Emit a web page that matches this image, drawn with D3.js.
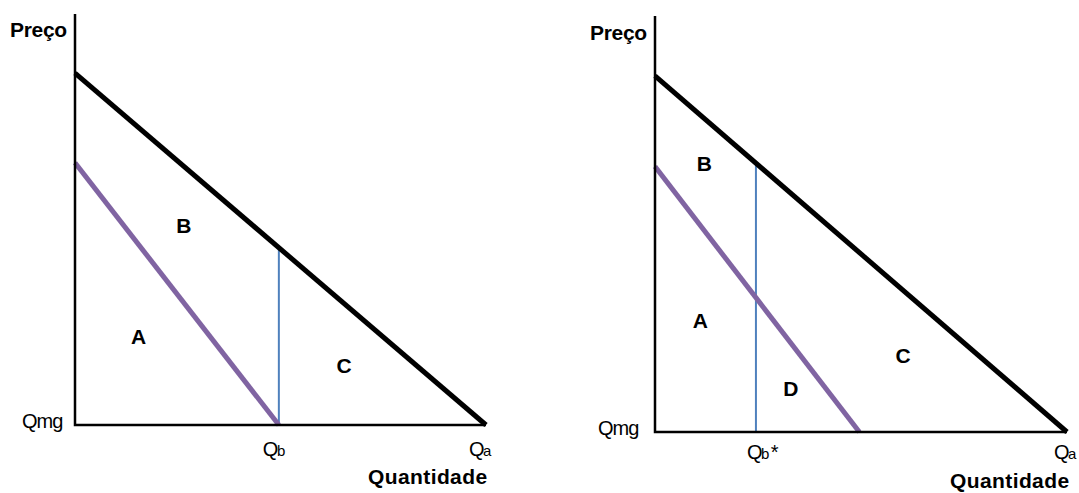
<!DOCTYPE html>
<html>
<head>
<meta charset="utf-8">
<script src="https://cdn.jsdelivr.net/npm/d3@7"></script>
<style>
  body { margin: 0; background: #fff; }
  text { font-family: "Liberation Sans", Arial, sans-serif; }
</style>
</head>
<body>
<div id="chart"></div>
<script>
// Values in abstract units (quantity 0..100, price 0..100)
const demand = [{q: 0, p: 85.6}, {q: 100, p: 0}];        // black line
const marginalCost = [{q: 0, p: 63.8}, {q: 49.6, p: 0}];  // purple line
const qbValues = [49.6, 24.5];                           // Qb (left), Qb* (right)
const qbLabels = ["Qb", "Qb*"];
const areaLabels = [
  [{t: "A", q: 15.5, p: 21.5}, {t: "B", q: 26.5, p: 48.5}, {t: "C", q: 65.5, p: 14.5}],
  [{t: "A", q: 11, p: 26.7}, {t: "B", q: 12, p: 64.6}, {t: "C", q: 60.2, p: 18.5}, {t: "D", q: 33, p: 10.4}]
];

const width = 1079;
const height = 493;

// Each panel: axis box in pixels and label anchors
const panels = [
  {x0: 75, x1: 486, y0: 425, y1: 14, preco: [10, 37], qmg: [22, 428], qbDx: -16, qbY: 456, qaX: 469, quant: [368, 484]},
  {x0: 655, x1: 1067, y0: 432, y1: 16, preco: [590, 40], qmg: [598, 435], qbDx: -9, qbY: 459, qaX: 1054, quant: [950, 488]}
];

const svg = d3.select("#chart").append("svg")
  .attr("width", width)
  .attr("height", height)
  .attr("viewBox", [0, 0, width, height]);

panels.forEach((pn, i) => {
  const x = d3.scaleLinear().domain([0, 100]).range([pn.x0, pn.x1]);
  const y = d3.scaleLinear().domain([0, 100]).range([pn.y0, pn.y1]);
  const g = svg.append("g");
  const line = d3.line().x(d => x(d.q)).y(d => y(d.p));

  // Qb vertical line (blue)
  const qb = qbValues[i];
  const pDemand = demand[0].p * (1 - qb / 100);
  g.append("line")
    .attr("x1", x(qb)).attr("x2", x(qb))
    .attr("y1", y(0)).attr("y2", y(pDemand))
    .attr("stroke", "#4f81bd")
    .attr("stroke-width", 2);

  // Marginal cost line (purple)
  g.append("path")
    .datum(marginalCost)
    .attr("d", line)
    .attr("fill", "none")
    .attr("stroke", "#8064a2")
    .attr("stroke-width", 5);

  // Demand line (black)
  g.append("path")
    .datum(demand)
    .attr("d", line)
    .attr("fill", "none")
    .attr("stroke", "#000")
    .attr("stroke-width", 5);

  // Axes
  g.append("path")
    .attr("d", `M${x(0)},${pn.y1}V${y(0)}H${x(100)}`)
    .attr("fill", "none")
    .attr("stroke", "#000")
    .attr("stroke-width", 2.5);

  // Axis texts
  g.append("text")
    .attr("x", pn.preco[0]).attr("y", pn.preco[1])
    .attr("font-size", 21).attr("font-weight", "bold")
    .attr("letter-spacing", -0.3)
    .text("Preço");
  g.append("text")
    .attr("x", pn.qmg[0]).attr("y", pn.qmg[1])
    .attr("font-size", 20).attr("letter-spacing", -1)
    .text("Qmg");
  const qbText = g.append("text")
    .attr("x", x(qb) + pn.qbDx).attr("y", pn.qbY)
    .attr("font-size", 20).attr("letter-spacing", -1.5);
  qbText.append("tspan").text("Q");
  qbText.append("tspan").attr("font-size", 15).text(qbLabels[i].slice(1, 2));
  if (qbLabels[i].length > 2) qbText.append("tspan").attr("dx", 3).attr("font-size", 20).text("*");
  const qaText = g.append("text")
    .attr("x", pn.qaX).attr("y", pn.qbY)
    .attr("font-size", 20).attr("letter-spacing", -1.5);
  qaText.append("tspan").text("Q");
  qaText.append("tspan").attr("font-size", 15).text("a");
  g.append("text")
    .attr("x", pn.quant[0]).attr("y", pn.quant[1])
    .attr("font-size", 21).attr("font-weight", "bold")
    .attr("letter-spacing", 0.4)
    .text("Quantidade");

  // Area labels
  g.selectAll(".area-label")
    .data(areaLabels[i])
    .join("text")
    .attr("x", d => x(d.q)).attr("y", d => y(d.p))
    .attr("text-anchor", "middle")
    .attr("dominant-baseline", "central")
    .attr("font-size", 21).attr("font-weight", "bold")
    .text(d => d.t);
});
</script>
</body>
</html>
